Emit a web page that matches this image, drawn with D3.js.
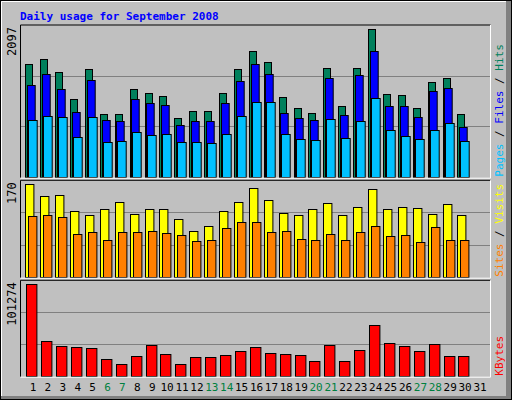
<!DOCTYPE html>
<html><head><meta charset="utf-8">
<script src="https://cdn.jsdelivr.net/npm/d3@7"></script>
<style>body{margin:0;background:#fff}svg{display:block}</style>
</head><body>
<script>
const days = d3.range(1,32);
const weekend = [6,7,13,14,20,21,27,28];
const hits  = [1605,1672,1487,1102,1529,889,889,1245,1188,1145,832,931,931,1188,1529,1786,1629,1131,974,903,1544,1002,1544,2097,1173,1159,974,1344,1401,889];
const files = [1302,1458,1245,917,1373,803,789,1102,1045,1017,732,789,789,1045,1358,1601,1458,903,832,803,1401,874,1444,1786,1002,1002,846,1216,1259,703];
const pages = [803,860,846,561,846,490,504,632,590,604,490,490,476,604,860,1059,1059,604,533,518,817,547,789,1116,661,575,533,661,760,504];
const visits= [170,148,150,120,113,124,137,115,124,124,107,85,94,120,137,164,142,118,113,124,135,113,128,161,124,129,126,116,133,113];
const sites = [111,113,109,78,82,67,82,83,85,80,76,65,67,89,100,100,83,85,70,67,78,67,82,94,74,76,63,91,67,67];
const kbytes= [101274,38038,32500,31390,30280,18100,12560,21420,33600,23640,12560,20310,20310,22530,26960,31390,24740,23640,22530,15880,33600,15880,28070,55760,35820,32500,26960,34710,21420,21420];
const yMaxLabels = ["2097","170","101274"];

const W=512,H=400;
const svg=d3.select("body").append("svg").attr("width",W).attr("height",H);
svg.append("rect").attr("width",W).attr("height",H).attr("fill","#c0c0c0");
svg.append("rect").attr("x",0.5).attr("y",0.5).attr("width",W-1).attr("height",H-1).attr("fill","none").attr("stroke","#000");
svg.append("path").attr("d","M1.5,398V1.5H510").attr("stroke","#fff").attr("fill","none");
svg.append("rect").attr("x",506).attr("y",1).attr("width",5).attr("height",398).attr("fill","#808080");
svg.append("rect").attr("x",1).attr("y",396).attr("width",510).attr("height",3).attr("fill","#808080");

svg.append("text").attr("x",20).attr("y",20).text("Daily usage for September 2008")
 .attr("font-family","DejaVu Sans Mono").attr("font-weight","bold").attr("font-size",11).attr("fill","#0000ff");

const x=d3.scaleLinear().domain([1,31]).range([33,480]);
const X0=20.5,X1=490.5;

function panel(top,base,max,label,series,rlabels){
  const y=d3.scaleLinear().domain([0,max]).range([base,top]);
  const g=svg.append("g");
  [max/3,2*max/3].forEach(v=>g.append("line").attr("x1",X0).attr("x2",X1).attr("y1",Math.round(y(v))+.5).attr("y2",Math.round(y(v))+.5).attr("stroke","#808080"));
  series.forEach(s=>{
    g.selectAll(null).data(s.data).enter().append("rect")
     .attr("x",(d,i)=>Math.round(x(i+1)+s.dx)+.5).attr("width",s.w)
     .attr("y",d=>Math.round(y(d))+.5).attr("height",d=>Math.max(0,Math.round(base)-Math.round(y(d))))
     .attr("fill",s.color).attr("stroke","#000");
  });
  g.append("path").attr("d",`M${X0},${base+1}V${top}H${X1}`).attr("stroke","#000").attr("fill","none");
  g.append("path").attr("d",`M${X0},${base+1.5}H${X1}V${top}`).attr("stroke","#fff").attr("fill","none");
  g.append("text").attr("transform",`translate(16,${top+2}) rotate(-90)`).attr("text-anchor","end")
   .attr("font-family","DejaVu Sans Mono").attr("font-size",12).text(label);
  const t=g.append("text").attr("transform",`translate(503,${base}) rotate(-90)`).attr("text-anchor","start")
   .attr("font-family","DejaVu Sans Mono").attr("font-size",11);
  rlabels.forEach(r=>t.append("tspan").attr("fill",r[1]).text(r[0]));
}

panel(25,176.7,2160,yMaxLabels[0],[
  {data:hits,color:"#00805c",dx:-7.7,w:7},
  {data:files,color:"#0000ff",dx:-6,w:7.7},
  {data:pages,color:"#00c0ff",dx:-5,w:8.7}],
  [["Pages","#00c0ff"],[" / ","#000"],["Files","#0000ff"],[" / ","#000"],["Hits","#00805c"]]);
panel(180.3,276.7,177.4,yMaxLabels[1],[
  {data:visits,color:"#ffff00",dx:-7.7,w:8.4},
  {data:sites,color:"#ff8000",dx:-4.7,w:8.4}],
  [["Sites","#ff8000"],[" / ","#000"],["Visits","#ffff00"]]);
panel(280.3,375.7,105700,yMaxLabels[2],[
  {data:kbytes,color:"#ff0000",dx:-6.7,w:10.4}],
  [["KBytes","#ff0000"]]);

svg.selectAll(".d").data(days).enter().append("text")
 .attr("x",d=>x(d)).attr("y",391).attr("text-anchor","middle")
 .attr("font-family","DejaVu Sans Mono").attr("font-size",11)
 .attr("fill",d=>weekend.includes(d)?"#008040":"#000").text(d=>d);
</script>
</body></html>
